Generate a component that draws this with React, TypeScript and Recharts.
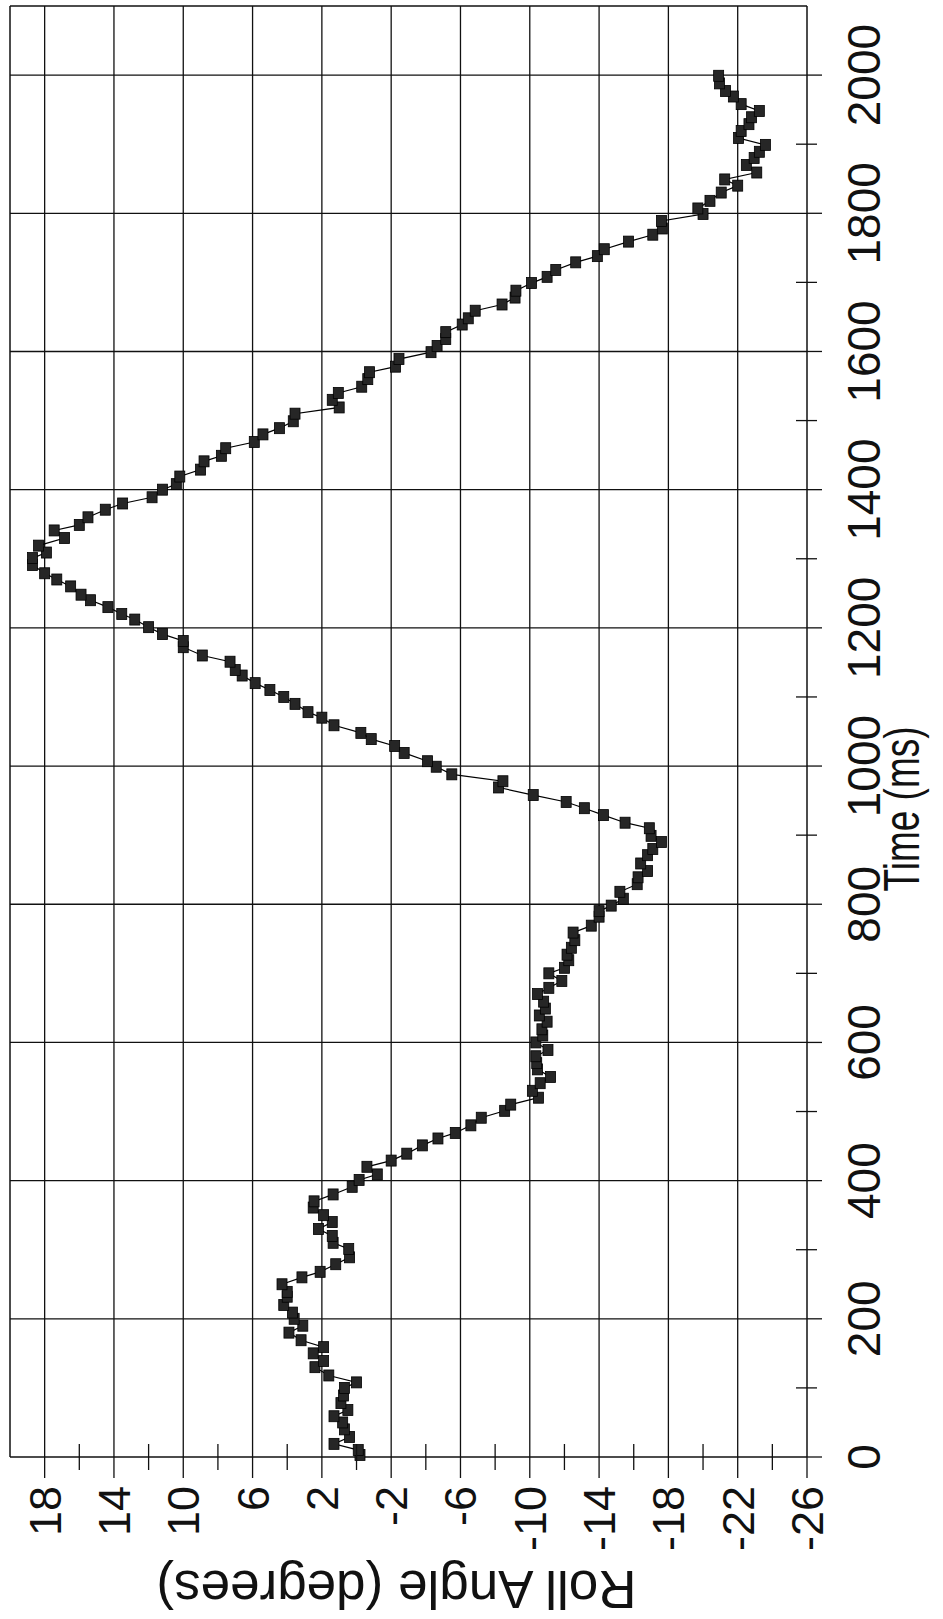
import { LineChart, Line, XAxis, YAxis, ReferenceLine } from "recharts";

// time (ms) and roll angle (deg)
const timeMs = [
  3, 10, 19, 29, 40, 50, 59, 68, 78, 89, 100, 108, 118, 130, 139, 150, 159, 169, 180, 190,
  200, 209, 220, 232, 239, 250, 260, 268, 279, 289, 301, 310, 320, 330, 340, 350, 361, 370, 380, 391,
  401, 409, 420, 429, 439, 451, 461, 469, 480, 491, 501, 510, 520, 530, 541, 550, 561, 570, 580, 589,
  600, 610, 619, 630, 639, 649, 659, 670, 679, 689, 700, 708, 719, 727, 737, 748, 759, 769, 782, 790,
  798, 808, 818, 829, 839, 848, 859, 871, 880, 890, 899, 910, 918, 929, 939, 948, 958, 969, 978, 988,
  999, 1007, 1019, 1029, 1039, 1048, 1059, 1070, 1078, 1090, 1100, 1110, 1120, 1131, 1139, 1151, 1160, 1172, 1181, 1191,
  1201, 1212, 1220, 1230, 1240, 1248, 1260, 1270, 1279, 1291, 1301, 1309, 1319, 1330, 1341, 1349, 1360, 1371, 1380, 1389,
  1400, 1408, 1419, 1429, 1441, 1449, 1460, 1469, 1480, 1489, 1499, 1510, 1519, 1530, 1540, 1549, 1560, 1570, 1578, 1589,
  1599, 1608, 1618, 1628, 1639, 1648, 1659, 1668, 1678, 1688, 1699, 1708, 1718, 1729, 1738, 1748, 1759, 1769, 1778, 1789,
  1799, 1807, 1818, 1830, 1840, 1849, 1859, 1870, 1880, 1889, 1899, 1909, 1919, 1929, 1939, 1948, 1958, 1969, 1977, 1988,
  1999,
];

const rollDeg = [
  -0.2, -0.1, 1.3, 0.4, 0.7, 0.8, 1.3, 0.5, 0.9, 0.75, 0.7, 0.0, 1.6, 2.4, 1.9, 2.5, 1.9, 3.2, 3.9, 3.1,
  3.6, 3.7, 4.2, 4.0, 4.0, 4.3, 3.15, 2.1, 1.2, 0.4, 0.45, 1.35, 1.4, 2.2, 1.4, 1.9, 2.5, 2.45, 1.35, 0.25,
  -0.15, -1.2, -0.6, -2.0, -2.9, -3.8, -4.7, -5.7, -6.6, -7.2, -8.55, -8.9, -10.5, -10.15, -10.6, -11.2, -10.45, -10.4, -10.35, -11.05,
  -10.35, -10.75, -10.7, -11.0, -10.55, -10.9, -10.8, -10.45, -11.1, -11.85, -11.1, -12.0, -12.25, -12.15, -12.4, -12.6, -12.5, -13.55, -14.0, -14.0,
  -14.7, -15.4, -15.2, -16.2, -16.25, -16.8, -16.4, -16.8, -17.1, -17.6, -17.0, -16.9, -15.5, -14.25, -13.15, -12.1, -10.2, -8.2, -8.45, -5.5,
  -4.6, -4.1, -2.75, -2.2, -0.85, -0.25, 1.3, 2.0, 2.8, 3.55, 4.2, 5.0, 5.85, 6.6, 7.0, 7.3, 8.9, 10.0, 10.0, 11.2,
  12.0, 12.8, 13.55, 14.35, 15.35, 15.9, 16.5, 17.3, 18.0, 18.7, 18.7, 17.9, 18.35, 16.85, 17.45, 16.0, 15.5, 14.5, 13.5, 11.8,
  11.2, 10.4, 10.2, 9.0, 8.8, 7.8, 7.55, 5.9, 5.4, 4.45, 3.65, 3.55, 1.0, 1.4, 1.05, -0.3, -0.65, -0.75, -2.25, -2.45,
  -4.3, -4.65, -5.15, -5.15, -6.1, -6.45, -6.85, -8.4, -9.15, -9.2, -10.1, -11.0, -11.5, -12.65, -13.9, -14.3, -15.7, -17.1, -17.65, -17.6,
  -20.0, -19.7, -20.4, -21.05, -22.0, -21.25, -23.1, -22.5, -22.95, -23.25, -23.6, -22.05, -22.2, -22.65, -22.8, -23.25, -22.2, -21.75, -21.3, -20.95,
  -20.9,
];

const timeMajorTicks = [0, 200, 400, 600, 800, 1000, 1200, 1400, 1600, 1800, 2000];
const timeMinorTicks = [100, 300, 500, 700, 900, 1100, 1300, 1500, 1700, 1900];
const rollMajorTicks = [18, 14, 10, 6, 2, -2, -6, -10, -14, -18, -22, -26];
const rollMinorTicks = [16, 12, 8, 4, 0, -4, -8, -12, -16, -20, -24];

const FONT = "'Liberation Sans', Arial, Helvetica, sans-serif";
const INK = "#111";

// chart is drawn upright, then the whole thing is turned 90deg like the scan
const W = 1619;
const H = 943;

const chartData = timeMs.map((t, i) => ({ t, r: rollDeg[i] }));
const timeTicks = [...timeMajorTicks, ...timeMinorTicks].sort((a, b) => a - b);
const rollTicks = [...rollMajorTicks, ...rollMinorTicks].sort((a, b) => a - b);

function TimeTick({ x, y, payload }: any) {
  if (!timeMajorTicks.includes(payload.value)) {
    return <line x1={x} x2={x} y1={y - 11} y2={y + 10} stroke={INK} strokeWidth={1.3} />;
  }
  return (
    <g>
      <line x1={x} x2={x} y1={y} y2={y + 15} stroke={INK} strokeWidth={1.3} />
      <text x={x} y={y + 73} textAnchor="middle" fontSize={46} fontFamily={FONT} fill={INK}>
        {payload.value}
      </text>
    </g>
  );
}

function RollTick({ x, y, payload }: any) {
  if (!rollMajorTicks.includes(payload.value)) {
    return <line x1={x - 13} x2={x + 13} y1={y} y2={y} stroke={INK} strokeWidth={1.3} />;
  }
  return (
    <g>
      <line x1={x - 21} x2={x} y1={y} y2={y} stroke={INK} strokeWidth={1.3} />
      <text x={x - 29} y={y + 16} textAnchor="end" fontSize={45} fontFamily={FONT} fill={INK}>
        {payload.value}
      </text>
    </g>
  );
}

function TimeLabel({ viewBox }: any) {
  const vx = viewBox?.x ?? 162;
  const vy = viewBox?.y ?? 807;
  return (
    <text
      x={vx + 648}
      y={vy + 112}
      textAnchor="middle"
      fontSize={50}
      fontFamily={FONT}
      fill={INK}
      textLength={165}
      lengthAdjust="spacingAndGlyphs"
    >
      Time (ms)
    </text>
  );
}

function RollLabel({ viewBox }: any) {
  const vx = viewBox?.x ?? 0;
  const vy = viewBox?.y ?? 10;
  const vh = viewBox?.height ?? 797;
  const cx = vx + 48;
  const cy = vy + vh / 2 - 12;
  return (
    <text
      x={cx}
      y={cy}
      transform={`rotate(-90, ${cx}, ${cy})`}
      textAnchor="middle"
      fontSize={53}
      fontFamily={FONT}
      fill={INK}
    >
      Roll Angle (degrees)
    </text>
  );
}

function Marker({ cx, cy, index }: any) {
  if (cx == null || cy == null) return null;
  return (
    <rect
      key={`m-${index}`}
      x={cx - 5.5}
      y={cy - 5}
      width={11}
      height={10}
      fill="#262626"
      stroke="#000"
      strokeWidth={0.8}
    />
  );
}

export default function App() {
  return (
    <div
      style={{
        position: "absolute",
        left: 0,
        top: 0,
        width: H,
        height: W,
        background: "#fff",
        overflow: "hidden",
      }}
    >
      <div
        style={{
          position: "absolute",
          left: 0,
          top: 0,
          width: W,
          height: H,
          transformOrigin: "0 0",
          transform: `translate(0px, ${W}px) rotate(-90deg)`,
        }}
      >
        <LineChart width={W} height={H} data={chartData} margin={{ top: 10, right: 6, bottom: 0, left: 0 }}>
          <XAxis
            dataKey="t"
            type="number"
            domain={[0, 2100]}
            ticks={timeTicks}
            interval={0}
            height={136}
            tickSize={0}
            tickMargin={0}
            tickLine={false}
            tick={<TimeTick />}
            axisLine={{ stroke: INK, strokeWidth: 1.5 }}
            label={<TimeLabel />}
          />
          <YAxis
            type="number"
            domain={[-26, 20]}
            ticks={rollTicks}
            interval={0}
            width={162}
            tickSize={0}
            tickMargin={0}
            tickLine={false}
            tick={<RollTick />}
            axisLine={{ stroke: INK, strokeWidth: 1.5 }}
            label={<RollLabel />}
          />
          {rollMajorTicks.slice(0, -1).map((v) => (
            <ReferenceLine key={`ry-${v}`} y={v} stroke={INK} strokeWidth={1.3} />
          ))}
          {timeMajorTicks.slice(1).map((v) => (
            <ReferenceLine key={`tx-${v}`} x={v} stroke={INK} strokeWidth={1.3} />
          ))}
          <ReferenceLine y={20} stroke={INK} strokeWidth={1.5} />
          <ReferenceLine x={2100} stroke={INK} strokeWidth={1.5} />
          <Line
            dataKey="r"
            type="linear"
            stroke="#000"
            strokeWidth={1.2}
            dot={<Marker />}
            activeDot={false}
            isAnimationActive={false}
          />
        </LineChart>
      </div>
    </div>
  );
}
